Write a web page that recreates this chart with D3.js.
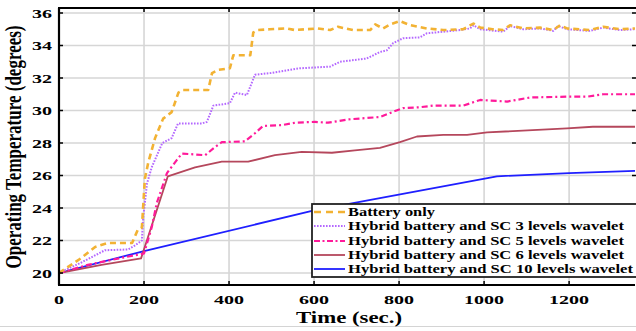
<!DOCTYPE html>
<html><head><meta charset="utf-8">
<script src="https://cdn.jsdelivr.net/npm/d3@7"></script>
<style>body{margin:0;background:#fff}svg{display:block}</style>
</head><body><svg id="c" width="636" height="331"></svg>
<script>
const xTicks = [0, 200, 400, 600, 800, 1000, 1200];
const yTicks = [20, 22, 24, 26, 28, 30, 32, 34, 36];
const seriesNames = ["Battery only","Hybrid battery and SC 3 levels wavelet","Hybrid battery and SC 5 levels wavelet","Hybrid battery and SC 6 levels wavelet","Hybrid battery and SC 10 levels wavelet"];

const batteryT = [0,49,85,115,172,186,195,202,210,226,245,265,281,292,351,360,375,402,410,450,457,468,496,536,555,580,609,638,656,692,732,744,762,779,802,826,865,904,951,975,991,1020,1045,1061,1092,1132,1163,1179,1195,1249,1280,1320,1355];
const batteryV = [20,20.86,21.6,21.85,21.85,22.7,22.8,25.8,26.8,28.3,29.5,29.9,31.1,31.26,31.26,32.3,32.5,32.6,33.4,33.4,34.8,34.95,35.0,35.05,34.95,35.0,35.05,34.95,35.15,34.95,34.95,35.3,35.05,35.3,35.5,35.25,35.05,34.95,35.0,35.35,35.1,35.0,34.95,35.25,35.05,35.1,34.95,35.25,35.05,34.95,35.15,35.0,35.05];

const sc3T = [0,49,108,163,179,195,198,207,218,243,265,280,336,348,363,402,414,442,461,496,520,567,638,661,724,755,771,786,810,849,865,944,967,975,991,1045,1061,1092,1132,1163,1174,1195,1249,1280,1320,1355];
const sc3V = [20,20.6,21.4,21.45,21.7,22.0,23.4,25.5,26.5,28.0,28.3,29.2,29.2,29.3,30.3,30.45,31.1,30.95,32.2,32.3,32.4,32.6,32.7,33.0,33.2,33.6,33.7,34.15,34.45,34.5,34.75,34.95,35.05,35.25,35.0,34.85,35.2,35.0,35.05,34.9,35.2,35.0,34.9,35.1,34.95,35.0];

const sc5T = [0,68,150,200,218,230,254,277,289,344,367,383,437,461,480,525,555,602,633,680,755,779,809,849,880,951,991,1054,1108,1195,1242,1280,1355];
const sc5V = [20,20.5,20.95,21.2,22.8,24.3,26.15,26.95,27.35,27.25,27.75,28.05,28.1,28.6,29.05,29.1,29.25,29.3,29.25,29.45,29.6,29.85,30.15,30.2,30.3,30.3,30.65,30.55,30.8,30.85,30.85,31.0,31.0];

const sc6T = [0,100,193,256,320,383,445,508,571,642,696,755,802,842,904,960,1007,1195,1256,1355];
const sc6V = [20,20.5,20.9,25.95,26.5,26.85,26.85,27.25,27.45,27.4,27.55,27.7,28.05,28.4,28.5,28.5,28.65,28.9,29.0,29.0];

const sc10T = [0,200,600,1030,1200,1355];
const sc10V = [20,21.35,23.85,25.95,26.15,26.28];

const svg = d3.select("#c");
const L = 59, R = 635, T = 8, B = 285;
const x = d3.scaleLinear().domain([0, 1355]).range([L, R]);
const y = d3.scaleLinear().domain([20, 36]).range([273, 13]);
const font = "'Liberation Serif','Times New Roman',serif";

// bottom light rule
svg.append("line").attr("x1",0).attr("x2",636).attr("y1",326.5).attr("y2",326.5).attr("stroke","#d4d4d4").attr("stroke-width",1);

// gridlines
const g = svg.append("g");
g.selectAll(".gx").data(xTicks.filter(d=>d>0)).join("line")
  .attr("x1",d=>x(d)).attr("x2",d=>x(d)).attr("y1",T).attr("y2",B)
  .attr("stroke","#d6d6d6").attr("stroke-width",1.6);
g.selectAll(".gy").data(yTicks).join("line")
  .attr("x1",L).attr("x2",R).attr("y1",d=>y(d)).attr("y2",d=>y(d))
  .attr("stroke","#d6d6d6").attr("stroke-width",1.6);

// series
const series = [
  {t:batteryT, v:batteryV, color:"#f2b233", w:2.6, dash:"6,4"},
  {t:sc3T, v:sc3V, color:"#b468ff", w:2, dash:"1.6,1.4"},
  {t:sc5T, v:sc5V, color:"#ff1a9a", w:2.2, dash:"6,3,2,3"},
  {t:sc6T, v:sc6V, color:"#b5475c", w:1.8, dash:null},
  {t:sc10T, v:sc10V, color:"#1f1fff", w:1.8, dash:null}
];
const line = d3.line().x(d=>x(d[0])).y(d=>y(d[1]));
// draw in reverse so battery is on top
series.slice().reverse().forEach(s=>{
  svg.append("path").datum(s.t.map((t,i)=>[t,s.v[i]]))
    .attr("d",line).attr("fill","none").attr("stroke",s.color)
    .attr("stroke-width",s.w).attr("stroke-dasharray",s.dash)
    .attr("stroke-linejoin","round");
});

// axes
const ax = svg.append("g");
ax.append("line").attr("x1",L).attr("x2",L).attr("y1",T).attr("y2",B).attr("stroke","#000").attr("stroke-width",2.2);
ax.append("line").attr("x1",L-1).attr("x2",R).attr("y1",B).attr("y2",B).attr("stroke","#000").attr("stroke-width",2.2);
ax.append("line").attr("x1",L-1).attr("x2",636).attr("y1",T).attr("y2",T).attr("stroke","#000").attr("stroke-width",1.8);
// ticks
ax.selectAll(".tb").data(xTicks.filter(d=>d>0)).join("line").attr("x1",d=>x(d)).attr("x2",d=>x(d)).attr("y1",B).attr("y2",B-4).attr("stroke","#000").attr("stroke-width",1.5);
ax.selectAll(".tt").data(xTicks.filter(d=>d>0)).join("line").attr("x1",d=>x(d)).attr("x2",d=>x(d)).attr("y1",T).attr("y2",T+4).attr("stroke","#000").attr("stroke-width",1.5);
ax.selectAll(".tl").data(yTicks).join("line").attr("x1",L).attr("x2",L+4).attr("y1",d=>y(d)).attr("y2",d=>y(d)).attr("stroke","#000").attr("stroke-width",1.5);
ax.selectAll(".tr").data(yTicks).join("line").attr("x1",R-3).attr("x2",R+1).attr("y1",d=>y(d)).attr("y2",d=>y(d)).attr("stroke","#000").attr("stroke-width",1.5);

// tick labels
ax.selectAll(".xl").data(xTicks).join("text")
  .attr("x",d=>x(d)).attr("y",304).attr("text-anchor","middle")
  .attr("font-family",font).attr("font-weight","bold").attr("font-size",13)
  .attr("textLength",d=>String(d).length*10).attr("lengthAdjust","spacingAndGlyphs")
  .text(d=>d);
ax.selectAll(".yl").data(yTicks).join("text")
  .attr("x",52).attr("y",d=>y(d)+4.5).attr("text-anchor","end")
  .attr("font-family",font).attr("font-weight","bold").attr("font-size",13)
  .attr("textLength",d=>String(d).length*10).attr("lengthAdjust","spacingAndGlyphs")
  .text(d=>d);

// axis titles
svg.append("text").attr("x",349).attr("y",323).attr("text-anchor","middle")
  .attr("font-family",font).attr("font-weight","bold").attr("font-size",17)
  .attr("textLength",106).attr("lengthAdjust","spacingAndGlyphs")
  .text("Time (sec.)");
svg.append("text").attr("transform","translate(21,147) scale(1.45,1) rotate(-90)")
  .attr("text-anchor","middle")
  .attr("font-family",font).attr("font-weight","bold").attr("font-size",16)
  .attr("textLength",243).attr("lengthAdjust","spacingAndGlyphs")
  .text("Operating Temperature (degrees)");

// legend
const lg = svg.append("g");
lg.append("rect").attr("x",312).attr("y",204).attr("width",330).attr("height",73)
  .attr("fill","#fff").attr("stroke","#222").attr("stroke-width",1.8);
const rowsY = [212,226,241,255,269];
const textLens = [87,276,276,276,285];
series.forEach((s,i)=>{
  lg.append("line").attr("x1",314).attr("x2",345).attr("y1",rowsY[i]).attr("y2",rowsY[i])
    .attr("stroke",s.color).attr("stroke-width",s.w).attr("stroke-dasharray", i===0?"7,5":(i===2?"6,2.5,2,2.5":s.dash));
  lg.append("text").attr("x",348).attr("y",rowsY[i]+4)
    .attr("font-family",font).attr("font-weight","bold").attr("font-size",12)
    .attr("textLength",textLens[i]).attr("lengthAdjust","spacingAndGlyphs")
    .text(seriesNames[i]);
});
</script></body></html>
